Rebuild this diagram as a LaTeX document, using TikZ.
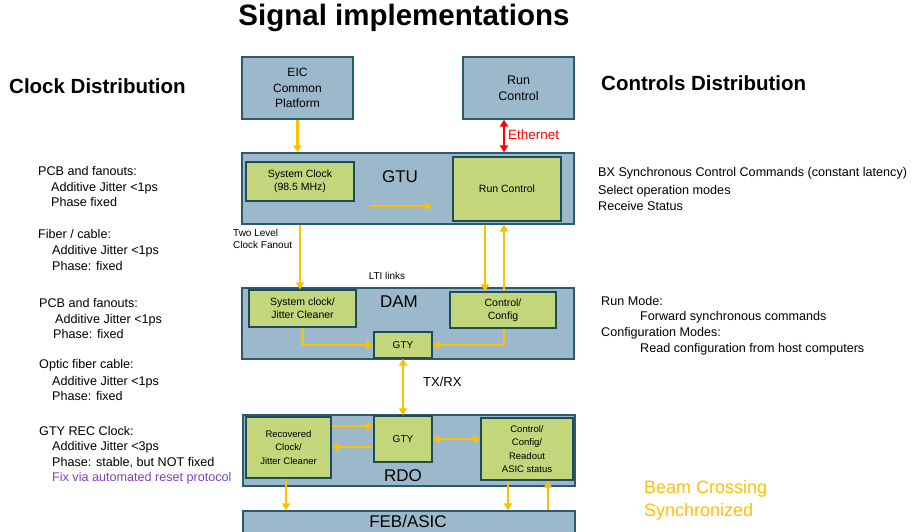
\documentclass[tikz,border=0pt]{standalone}
\usepackage{fontspec}
\setmainfont{Liberation Sans}
\usetikzlibrary{arrows.meta}
\definecolor{boxfill}{HTML}{9BB9CA}
\definecolor{boxline}{HTML}{2C5A6E}
\definecolor{grn}{HTML}{C3D67B}
\definecolor{grnline}{HTML}{1F4B5C}
\definecolor{yel}{HTML}{FFC000}
\definecolor{eth}{HTML}{FF0000}
\definecolor{purp}{HTML}{8040BF}
\definecolor{beam}{HTML}{FFC000}
\tikzset{
  outerbox/.style={draw=boxline, fill=boxfill, line width=1.3pt, inner sep=0pt, align=center},
  innerbox/.style={draw=grnline, fill=grn, line width=1.3pt, inner sep=0pt, align=center},
  tip/.tip={Triangle[length=7pt,width=8pt]},
  ya/.style={draw=yel, line width=2.4pt, -tip},
  yab/.style={draw=yel, line width=2.4pt, tip-tip},
  ra/.style={draw=eth, line width=2.2pt, tip-tip},
  lt/.style={font=\fontsize{12.6}{14}\selectfont, inner sep=0pt, anchor=west, text height=9pt, text depth=2.6pt},
  head/.style={font=\bfseries\fontsize{20.5}{24}\selectfont, inner sep=0pt, anchor=west},
  lbl/.style={font=\fontsize{17}{20}\selectfont, inner sep=0pt},
}
\begin{document}
\begin{tikzpicture}[x=1pt,y=-1pt]
\useasboundingbox (0,0) rectangle (914,531);
\fill[white] (0,0) rectangle (914,531);

% title and headings
\node[font=\bfseries\fontsize{29.5}{34}\selectfont, inner sep=0pt] (title) at (404,18) {Signal implementations};
\node[head] (hclk) at (9,86) {Clock Distribution};
\node[head] (hctl) at (601,83) {Controls Distribution};

% top boxes
\node[outerbox, minimum width=111pt, minimum height=62pt, font=\fontsize{12}{15.5}\selectfont] (eic) at (297.5,88) {EIC\\Common\\Platform};
\node[outerbox, minimum width=111pt, minimum height=62pt, font=\fontsize{12.5}{16}\selectfont] (rctop) at (518.5,88) {Run\\Control};

% GTU
\node[outerbox, minimum width=332pt, minimum height=71pt] (gtu) at (408,188.5) {};
\node[innerbox, minimum width=108pt, minimum height=39pt, font=\fontsize{10.5}{13}\selectfont] (sysclk) at (300,181.5) {System Clock\\(98.5 MHz)};
\node[innerbox, minimum width=108pt, minimum height=64pt, font=\fontsize{10.5}{13}\selectfont] (rcin) at (507,189) {Run Control};
\node[lbl, font=\fontsize{17}{20}\selectfont] (gtulbl) at (400,177) {GTU};

% DAM
\node[outerbox, minimum width=332pt, minimum height=71pt] (dam) at (408,323.5) {};
\node[innerbox, minimum width=107pt, minimum height=37pt, font=\fontsize{10.5}{13}\selectfont] (dsys) at (302.5,308.5) {System clock/\\Jitter Cleaner};
\node[innerbox, minimum width=106pt, minimum height=36pt, font=\fontsize{10.5}{13}\selectfont] (dctl) at (503,310) {Control/\\Config};
\node[innerbox, minimum width=58pt, minimum height=26pt, font=\fontsize{10}{12}\selectfont] (dgty) at (403,345) {GTY};
\node[lbl] (damlbl) at (399,302) {DAM};

% RDO
\node[outerbox, minimum width=332pt, minimum height=71pt] (rdo) at (409,450.5) {};
\node[innerbox, minimum width=85pt, minimum height=61pt, font=\fontsize{9.5}{13.5}\selectfont] (rrec) at (288.5,447.5) {Recovered\\Clock/\\Jitter Cleaner};
\node[innerbox, minimum width=58pt, minimum height=46pt, font=\fontsize{10}{12}\selectfont] (rgty) at (403,439) {GTY};
\node[innerbox, minimum width=92pt, minimum height=62pt, font=\fontsize{9.5}{13.4}\selectfont] (rctl) at (527,449) {Control/\\Config/\\Readout\\ASIC status};
\node[lbl] (rdolbl) at (403,476) {RDO};

% FEB/ASIC
\node[outerbox, minimum width=332pt, minimum height=24pt] (feb) at (409,523) {};
\node[lbl] (feblbl) at (408,521) {FEB/ASIC};

% helper coordinates
\coordinate (xe) at (504,0);
\coordinate (xa) at (300,0);
\coordinate (xb) at (485,0);
\coordinate (xc) at (286,0);
\coordinate (xd) at (508,0);
\coordinate (xf) at (548,0);
\coordinate (ya1) at (0,426);
\coordinate (ya2) at (0,447);
\coordinate (g1) at (370,206);
\coordinate (g2) at (432,206);

% connectors
\draw[ya] (eic.south) -- (eic.south |- gtu.north);
\draw[ra] (rctop.south -| xe) -- (gtu.north -| xe);
\draw[ya] (g1) -- (g2);
\draw[ya] (gtu.south -| xa) -- (dsys.north -| xa);
\draw[ya] (gtu.south -| xb) -- (dctl.north -| xb);
\draw[ya] (dctl.north -| xe) -- (gtu.south -| xe);
\draw[ya] (dsys.south) |- (dgty.west);
\draw[ya] (dctl.south -| xe) |- (dgty.east);
\draw[yab] (dgty.south) -- (rgty.north);
\draw[ya] (rrec.east |- ya1) -- (rgty.west |- ya1);
\draw[ya] (rgty.west |- ya2) -- (rrec.east |- ya2);
\draw[yab] (rgty.east) -- (rgty.east -| rctl.west);
\draw[ya] (rrec.south -| xc) -- (feb.north -| xc);
\draw[ya] (rctl.south -| xd) -- (feb.north -| xd);
\draw[ya] (feb.north -| xf) -- (rctl.south -| xf);

% connector labels
\node[font=\fontsize{13.5}{16}\selectfont, text=eth, inner sep=0pt, anchor=west] (ethl) at (508,135) {Ethernet};
\node[font=\fontsize{10}{12.5}\selectfont, inner sep=0pt, anchor=north west, align=left] (twolvl) at (233,229) {Two Level\\Clock Fanout};
\node[font=\fontsize{10}{12}\selectfont, inner sep=0pt] (lti) at (387,276) {LTI links};
\node[font=\fontsize{13}{16}\selectfont, inner sep=0pt, anchor=west] (txrx) at (423,382) {TX/RX};

% left column
\node[lt] (l1) at (38,172) {PCB and fanouts:};
\node[lt] (l2) at (51,188) {Additive Jitter <1ps};
\node[lt] (l3) at (51,203) {Phase fixed};
\node[lt] (l4) at (38,235) {Fiber / cable:};
\node[lt] (l5) at (52,251) {Additive Jitter <1ps};
\node[lt] (l6) at (52,267) {Phase: fixed};
\node[lt] (l7) at (39,304) {PCB and fanouts:};
\node[lt] (l8) at (55,320) {Additive Jitter <1ps};
\node[lt] (l9) at (53,335) {Phase: fixed};
\node[lt] (l10) at (39,365) {Optic fiber cable:};
\node[lt] (l11) at (52,382) {Additive Jitter <1ps};
\node[lt] (l12) at (52,397) {Phase: fixed};
\node[lt] (l13) at (39,432) {GTY REC Clock:};
\node[lt] (l14) at (52,447) {Additive Jitter <3ps};
\node[lt] (l15) at (52,463) {Phase: stable, but NOT fixed};
\node[lt, text=purp] (l16) at (52,478) {Fix via automated reset protocol};

% right column
\node[lt] (r1) at (598,173) {BX Synchronous Control Commands (constant latency)};
\node[lt] (r2) at (598,191) {Select operation modes};
\node[lt] (r3) at (598,207) {Receive Status};
\node[lt] (r4) at (601,302) {Run Mode:};
\node[lt] (r5) at (640,317) {Forward synchronous commands};
\node[lt] (r6) at (601,333) {Configuration Modes:};
\node[lt] (r7) at (640,349) {Read configuration from host computers};

% beam crossing
\node[font=\fontsize{18}{23}\selectfont, text=beam, inner sep=0pt, anchor=north west, align=left] (beamtxt) at (644,480) {Beam Crossing\\Synchronized};
\end{tikzpicture}
\end{document}
